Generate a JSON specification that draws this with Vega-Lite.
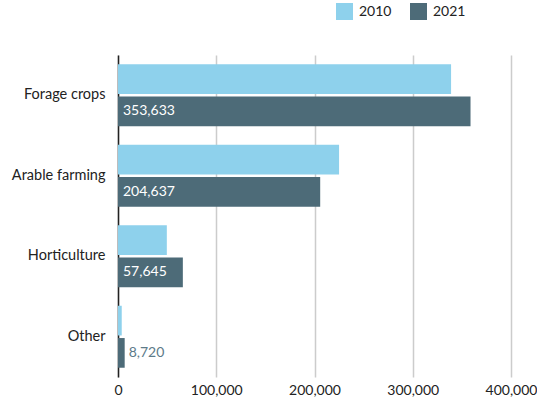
{
  "$schema": "https://vega.github.io/schema/vega-lite/v6.json",
  "width": 393,
  "height": 322,
  "autosize": {"type": "none"},
  "padding": {"left": 118, "top": 55, "right": 26, "bottom": 24},
  "background": "white",
  "config": {
    "font": "Lato",
    "view": {"stroke": null}
  },
  "data": {
    "values": [
      {"category": "Forage crops", "year": "2010", "hectares": 339000, "label": ""},
      {"category": "Forage crops", "year": "2021", "hectares": 358800, "label": "353,633"},
      {"category": "Arable farming", "year": "2010", "hectares": 225000, "label": ""},
      {"category": "Arable farming", "year": "2021", "hectares": 205800, "label": "204,637"},
      {"category": "Horticulture", "year": "2010", "hectares": 49700, "label": ""},
      {"category": "Horticulture", "year": "2021", "hectares": 66000, "label": "57,645"},
      {"category": "Other", "year": "2010", "hectares": 3800, "label": ""},
      {"category": "Other", "year": "2021", "hectares": 6800, "label": "8,720"}
    ]
  },
  "encoding": {
    "y": {
      "field": "category",
      "type": "nominal",
      "sort": ["Forage crops", "Arable farming", "Horticulture", "Other"],
      "scale": {"paddingInner": 0.23, "paddingOuter": 0.115},
      "axis": {
        "title": null,
        "domainColor": "#222222",
        "domainWidth": 1.5,
        "ticks": false,
        "grid": false,
        "labelFontSize": 14.5,
        "labelColor": "#222222",
        "labelPadding": 13
      }
    },
    "yOffset": {
      "field": "year",
      "type": "nominal",
      "scale": {"paddingInner": 0.08}
    }
  },
  "layer": [
    {
      "mark": {"type": "bar"},
      "encoding": {
        "x": {
          "field": "hectares",
          "type": "quantitative",
          "scale": {"domain": [0, 400000]},
          "axis": {
            "title": null,
            "values": [0, 100000, 200000, 300000, 400000],
            "format": ",d",
            "domain": false,
            "ticks": false,
            "gridColor": "#cccccc",
            "gridWidth": 1.5,
            "labelFontSize": 14,
            "labelColor": "#222222",
            "labelPadding": 6,
            "labelFlush": false
          }
        },
        "color": {
          "field": "year",
          "type": "nominal",
          "scale": {"domain": ["2010", "2021"], "range": ["#8ed1ec", "#4d6b78"]},
          "legend": {
            "title": null,
            "orient": "none",
            "legendX": 218,
            "legendY": -52,
            "direction": "horizontal",
            "columns": 2,
            "columnPadding": 18,
            "symbolType": "square",
            "symbolSize": 289,
            "symbolStrokeWidth": 0,
            "labelFontSize": 14,
            "labelColor": "#222222",
            "labelOffset": 6
          }
        }
      }
    },
    {
      "transform": [{"filter": "datum.year == '2021' && datum.category != 'Other'"}],
      "mark": {"type": "text", "align": "left", "baseline": "middle", "dx": 5, "fontSize": 14, "color": "white"},
      "encoding": {
        "x": {"datum": 0, "type": "quantitative"},
        "text": {"field": "label"}
      }
    },
    {
      "transform": [{"filter": "datum.year == '2021' && datum.category == 'Other'"}],
      "mark": {"type": "text", "align": "left", "baseline": "middle", "dx": 4, "fontSize": 14, "color": "#5d7b89"},
      "encoding": {
        "x": {"field": "hectares", "type": "quantitative"},
        "text": {"field": "label"}
      }
    }
  ]
}
